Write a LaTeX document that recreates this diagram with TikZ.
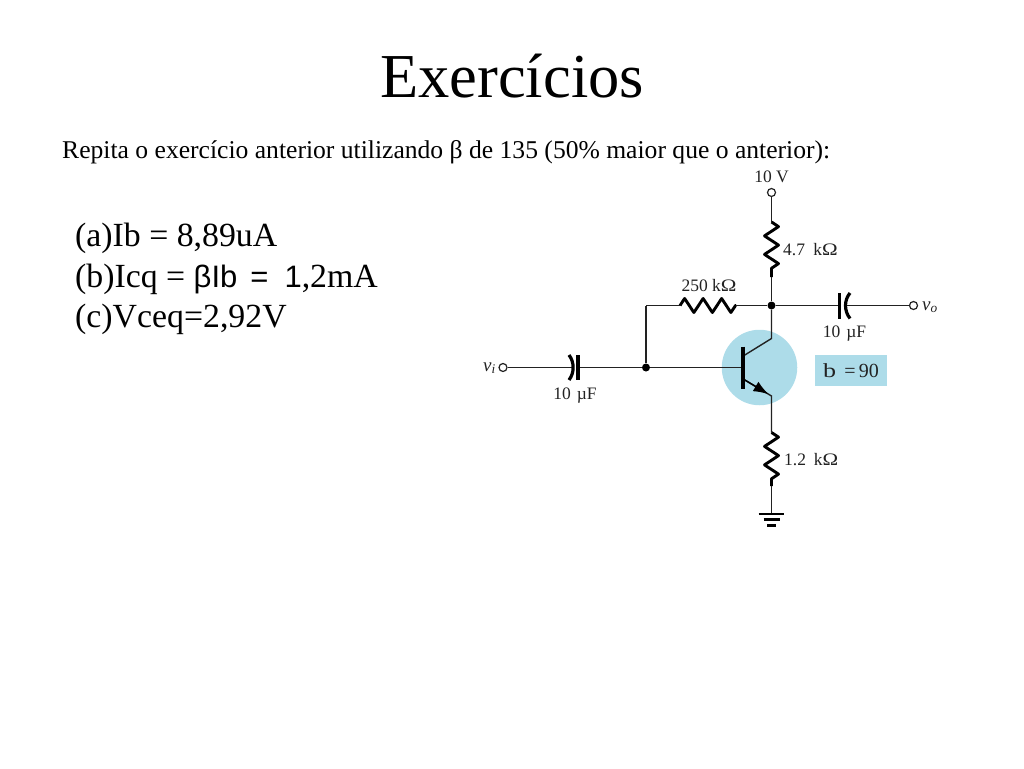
\documentclass[tikz,border=0pt]{standalone}
\usepackage{fontspec}
\setmainfont{Liberation Serif}
\newfontfamily\arialfont{Liberation Sans}
\usetikzlibrary{arrows.meta,decorations.pathmorphing}
\definecolor{discblue}{HTML}{ADDCE9}
\definecolor{inkgray}{HTML}{222222}
\newcommand{\kohm}{k\scalebox{1.2}[1]{Ω}}
\tikzset{
  >={Latex[length=15pt,width=11pt]},
  wire/.style={draw=inkgray,line width=1.4pt},
  res/.style={draw=black,line width=2.9pt,line join=round,decorate,decoration={zigzag,segment length=18.5pt,amplitude=7pt}},
  plate/.style={draw=black,line width=3.2pt},
  term/.style={circle,draw=inkgray,fill=white,line width=1.2pt,minimum size=8pt,inner sep=0pt},
  joint/.style={circle,fill=black,minimum size=8pt,inner sep=0pt},
  lbl/.style={text=inkgray,font=\fontsize{17.5}{17.5}\selectfont,inner sep=0pt},
  txt/.style={anchor=base west,inner sep=0pt},
}
\begin{document}
\begin{tikzpicture}[x=1pt,y=-1pt]
			\useasboundingbox (0,0) rectangle (1024,768);
			\node[txt,font=\fontsize{62.5}{62.5}\selectfont] (title) at (380,97) {Exercícios};
			\node[txt,font=\fontsize{25.6}{25.6}\selectfont] (intro) at (62,158) {Repita o exercício anterior utilizando β de 135 (50\% maior que o anterior):};
			\node[txt,font=\fontsize{33.8}{33.8}\selectfont] (itema) at (75,246) {(a)Ib = 8,89uA};
			\node[txt,font=\fontsize{33.8}{33.8}\selectfont] (itemb) at (75,287) {(b)Icq = {\arialfont\fontsize{31}{31}\selectfont βIb\hspace{13pt}=\hspace{16pt}1},2mA};
			\node[txt,font=\fontsize{33.8}{33.8}\selectfont] (itemc) at (75,327) {(c)Vceq=2,92V};
			% transistor disc and gain box
			\node[circle,fill=discblue,minimum size=75.5pt,inner sep=0pt] (disc) at (759.5,367.5) {};
			\node[fill=discblue,minimum width=71.5pt,minimum height=30.5pt,inner sep=0pt] (gain) at (851,370.5) {};
			\node[lbl,font=\fontsize{20}{20}\selectfont] at (gain) {\scalebox{1.3}[1]{b}\, =\,90};
			% terminals and junctions
			\node[term] (vcc) at (771.5,192.5) {};
			\node[term] (vout) at (913.5,305.5) {};
			\node[term] (vin) at (503,367.5) {};
			\node[joint] (jc) at (771.5,305.5) {};
			\node[joint] (jb) at (646,367.5) {};
			\coordinate (corner) at (646,305.5);
			% resistor ends
			\coordinate (rca) at (771.5,222);
			\coordinate (rcb) at (771.5,277);
			\coordinate (rba) at (680,305.5);
			\coordinate (rbb) at (736,305.5);
			\coordinate (rea) at (771.5,432.5);
			\coordinate (reb) at (771.5,486);
			% capacitor plates
			\coordinate (cia) at (573,367.5);
			\coordinate (cib) at (578,367.5);
			\coordinate (coa) at (839.5,305.5);
			\coordinate (cob) at (845,305.5);
			% transistor points
			\coordinate (bt) at (742.7,346.5);
			\coordinate (bb) at (742.7,388.5);
			\coordinate (base) at (742.7,367.5);
			\coordinate (col) at (744,355.5);
			\coordinate (colb) at (771.5,338.5);
			\coordinate (emi) at (744,379.5);
			\coordinate (emib) at (771.5,396);
			\coordinate (etip) at (768.5,394.2);
			\coordinate (gnd) at (771.5,514);
			\draw[wire] (vcc) -- (rca);
			\draw[res] (rca) -- (rcb);
			\draw[wire] (rcb) -- (jc);
			\draw[wire] (corner) -- (rba);
			\draw[res] (rba) -- (rbb);
			\draw[wire] (rbb) -- (jc);
			\draw[wire] (corner) -- (jb);
			\draw[wire] (jc) -- (coa);
			\draw[wire] (cob) -- (vout);
			\draw[wire] (vin) -- (cia);
			\draw[wire] (cib) -- (jb);
			\draw[wire] (jb) -- (base);
			\draw[wire] (jc) -- (colb) -- (col);
			\draw[wire] (emi) -- (emib) -- (rea);
			\draw[wire,draw=black,->] (emi) -- (etip);
			\draw[res] (rea) -- (reb);
			\draw[wire] (reb) -- (gnd);
			\draw[plate,line width=4.4pt] (bt) -- (bb);
			\draw[plate] (578,355) -- (578,380);
			\draw[plate] (569,355) .. controls (574.5,362) and (574.5,373) .. (569,380);
			\draw[plate] (839.5,293) -- (839.5,318.5);
			\draw[plate] (850,293) .. controls (844,300) and (844,311) .. (850,318.5);
			\draw[line width=2.6pt] (758.7,514) -- (784.3,514);
			\draw[line width=2.4pt] (763.5,519.5) -- (779.5,519.5);
			\draw[line width=2.2pt] (767,525.5) -- (776,525.5);
			% labels
			\node[lbl,anchor=base] (lvcc) at (771.5,182.5) {10 V};
			\node[lbl,anchor=base west] (lrc) at (783,255.5) {4.7\hspace{4pt} \kohm};
			\node[lbl,anchor=base] (lrb) at (709,291.5) {250 \kohm};
			\node[lbl,anchor=base] (lco) at (844.5,337.5) {10\hspace{1.5pt} µF};
			\node[lbl,anchor=base] (lci) at (575,399.5) {10\hspace{1.5pt} µF};
			\node[lbl,anchor=base west] (lre) at (784,465) {1.2\hspace{3.5pt} \kohm};
			\node[lbl,anchor=base west,font=\fontsize{19}{19}\selectfont] (lvo) at (922,310) {\textit{v\textsubscript{o}}};
			\node[lbl,anchor=base east,font=\fontsize{19}{19}\selectfont] (lvi) at (496,371) {\textit{v\textsubscript{i}}};
		\end{tikzpicture}
\end{document}
